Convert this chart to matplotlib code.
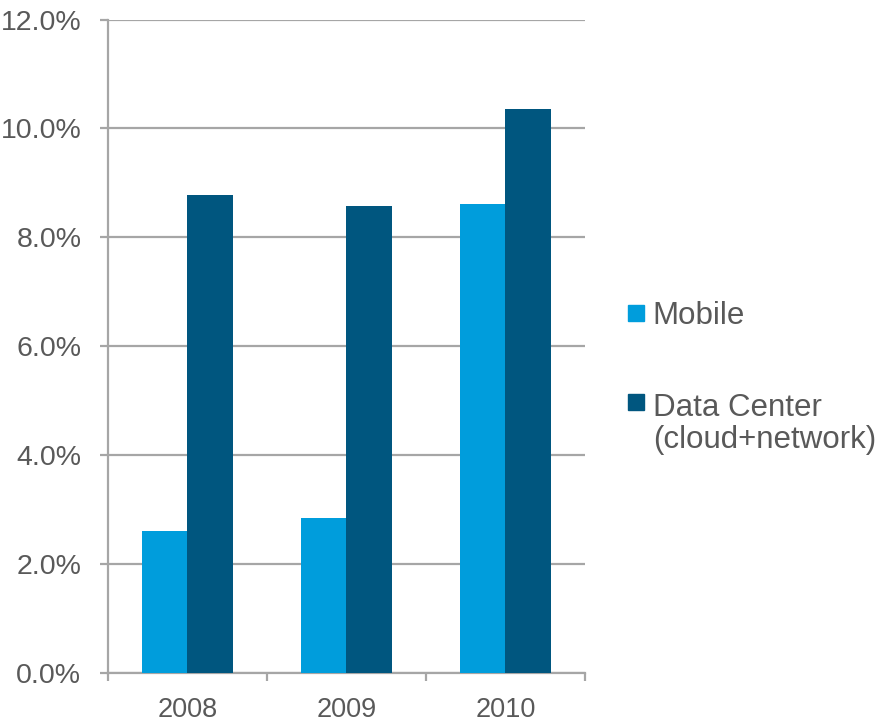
import numpy as np
import matplotlib.pyplot as plt
from matplotlib.patches import Rectangle

plt.rcParams['font.family'] = ['Liberation Sans', 'DejaVu Sans']

years = ['2008', '2009', '2010']
mobile = [2.61, 2.85, 8.62]
data_center = [8.77, 8.57, 10.35]
series_names = ['Mobile', 'Data Center\n(cloud+network)']
colors = ['#009ddc', '#00567f']

grid_color = '#a6a6a6'
text_color = '#595959'

fig = plt.figure(figsize=(8.82, 7.25), dpi=100)
ax = fig.add_axes([0.1221, 0.0717, 0.5412, 0.9014])

x = np.arange(len(years))
w = 0.285
ax.bar(x - w / 2, mobile, w, color=colors[0], zorder=3)
ax.bar(x + w / 2, data_center, w, color=colors[1], zorder=3)

ax.set_xlim(-0.5, 2.5)
ax.set_ylim(0, 12)
ax.set_yticks(np.arange(0, 12.1, 2))
ax.set_yticklabels(['%.1f%%' % v for v in np.arange(0, 12.1, 2)])
ax.set_xticks(x)
ax.set_xticklabels(years)
ax.set_xticks(np.arange(-0.5, 2.6, 1), minor=True)

ax.yaxis.grid(True, color=grid_color, linewidth=1.6, zorder=0)
for s in ['top', 'right']:
    ax.spines[s].set_visible(False)
for s in ['left', 'bottom']:
    ax.spines[s].set_color(grid_color)
    ax.spines[s].set_linewidth(1.6)

ax.tick_params(axis='y', colors=grid_color, labelcolor=text_color, labelsize=20.5,
               length=6, width=1.6, pad=13)
ax.tick_params(axis='x', which='major', length=0, labelcolor=text_color, labelsize=19.5,
               pad=17.5)
ax.tick_params(axis='x', which='minor', length=6, width=1.6, color=grid_color)

# legend drawn by hand so the swatch sits on the first text line
swatch_y = [0.568, 0.4455]
text_y = [0.5531, 0.382]
for c, name, sy, ty in zip(colors, series_names, swatch_y, text_y):
    fig.add_artist(Rectangle((0.712, sy - 0.011), 0.018, 0.022, color=c,
                             transform=fig.transFigure))
    fig.text(0.740, ty, name, color=text_color, fontsize=22.5,
             va='baseline', linespacing=1.1, transform=fig.transFigure)

fig.savefig('out.png', dpi=100)
